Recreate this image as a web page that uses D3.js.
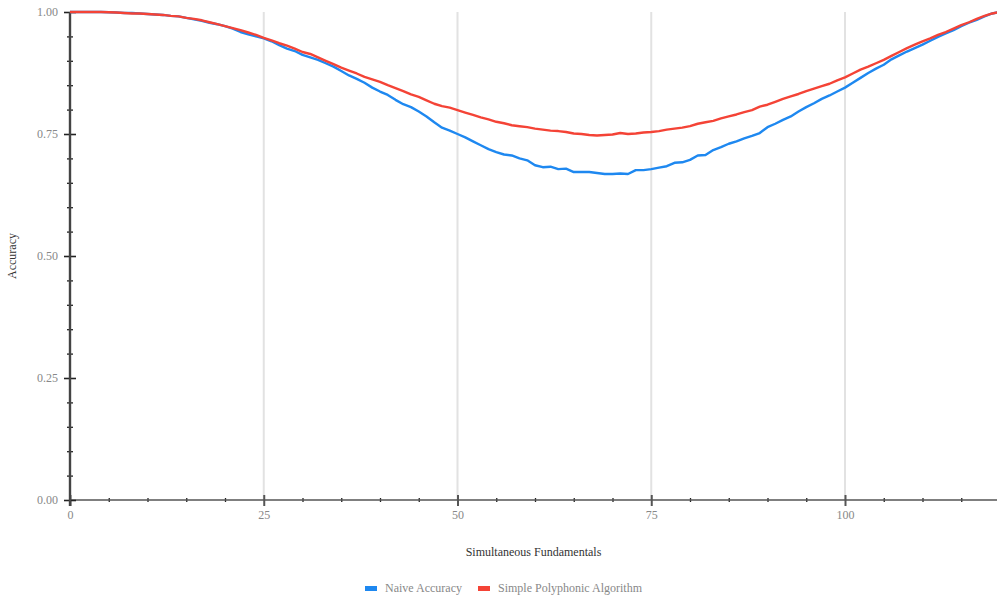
<!DOCTYPE html>
<html>
<head>
<meta charset="utf-8">
<script src="https://cdn.jsdelivr.net/npm/d3@7"></script>
<style>
  html, body { margin: 0; padding: 0; background: #fff; }
  svg { display: block; }
  text { font-family: "Liberation Serif", "DejaVu Serif", serif; }
</style>
</head>
<body>
<svg id="chart" width="997" height="596"></svg>
<script>
// Number of simultaneous fundamentals (0..120)
const fundamentals = d3.range(0, 121);

// Naive accuracy per number of fundamentals
const naiveAccuracy = [
  1.000, 1.000, 1.000, 1.000, 1.000, 0.9996, 0.999, 0.998, 0.998, 0.997,
  0.996, 0.995, 0.994, 0.992, 0.991, 0.988, 0.985, 0.982, 0.978, 0.975,
  0.971, 0.966, 0.959, 0.954, 0.950, 0.946, 0.940, 0.932, 0.925, 0.920,
  0.912, 0.907, 0.902, 0.895, 0.888, 0.879, 0.870, 0.863, 0.855, 0.845,
  0.837, 0.830, 0.820, 0.811, 0.805, 0.796, 0.786, 0.774, 0.763, 0.757,
  0.750, 0.743, 0.735, 0.727, 0.719, 0.713, 0.708, 0.706, 0.700, 0.696,
  0.686, 0.682, 0.683, 0.678, 0.679, 0.672, 0.672, 0.672, 0.670, 0.668,
  0.668, 0.669, 0.668, 0.676, 0.676, 0.678, 0.681, 0.684, 0.691, 0.692,
  0.697, 0.706, 0.707, 0.717, 0.723, 0.730, 0.735, 0.741, 0.746, 0.752,
  0.764, 0.771, 0.779, 0.786, 0.796, 0.805, 0.813, 0.822, 0.829, 0.837,
  0.845, 0.855, 0.865, 0.875, 0.884, 0.892, 0.903, 0.911, 0.919, 0.926,
  0.933, 0.941, 0.949, 0.956, 0.963, 0.971, 0.978, 0.984, 0.991, 0.997,
  1.000
];

// Simple polyphonic algorithm accuracy per number of fundamentals
const polyphonicAccuracy = [
  1.000, 1.000, 1.000, 1.000, 1.000, 0.9996, 0.999, 0.998, 0.997, 0.997,
  0.996, 0.995, 0.994, 0.992, 0.991, 0.988, 0.986, 0.983, 0.979, 0.975,
  0.971, 0.967, 0.963, 0.958, 0.953, 0.947, 0.942, 0.936, 0.931, 0.925,
  0.918, 0.914, 0.907, 0.900, 0.893, 0.886, 0.880, 0.874, 0.867, 0.862,
  0.857, 0.850, 0.844, 0.838, 0.831, 0.826, 0.819, 0.812, 0.807, 0.804,
  0.799, 0.794, 0.789, 0.784, 0.780, 0.775, 0.772, 0.768, 0.766, 0.764,
  0.761, 0.759, 0.757, 0.756, 0.754, 0.751, 0.750, 0.748, 0.747, 0.748,
  0.749, 0.752, 0.750, 0.751, 0.753, 0.754, 0.756, 0.759, 0.761, 0.763,
  0.766, 0.771, 0.774, 0.777, 0.782, 0.786, 0.790, 0.795, 0.799, 0.806,
  0.810, 0.816, 0.822, 0.827, 0.832, 0.838, 0.843, 0.848, 0.853, 0.860,
  0.866, 0.874, 0.882, 0.888, 0.895, 0.902, 0.910, 0.918, 0.926, 0.933,
  0.940, 0.946, 0.953, 0.959, 0.966, 0.973, 0.979, 0.986, 0.992, 0.997,
  1.000
];

const seriesNames = ["Naive Accuracy", "Simple Polyphonic Algorithm"];
const seriesColors = ["#1e88f0", "#f44336"];
const xMajorTicks = [0, 25, 50, 75, 100];
const yMajorTicks = [0, 0.25, 0.5, 0.75, 1];

const svg = d3.select("#chart");
const margin = { left: 70, top: 12, bottom: 500 };

const x = d3.scaleLinear().domain([0, 120]).range([margin.left, 1000]);
const y = d3.scaleLinear().domain([0, 1]).range([margin.bottom, margin.top]);

const clip = svg.append("defs").append("clipPath").attr("id", "plotClip")
  .append("rect").attr("x", margin.left).attr("y", 0).attr("width", 997 - margin.left).attr("height", 596);

// Vertical gridlines at major x ticks
svg.append("g")
  .selectAll("line")
  .data(xMajorTicks.filter(d => d > 0))
  .join("line")
  .attr("x1", d => x(d)).attr("x2", d => x(d))
  .attr("y1", y(1)).attr("y2", y(0))
  .attr("stroke", "#e2e2e2").attr("stroke-width", 2);

// X axis: minor ticks every 5, major every 25
const xMinor = d3.range(0, 121, 5).filter(d => d % 25 !== 0);
const xAxisMinor = d3.axisBottom(x).tickValues(xMinor).tickSize(4).tickFormat("");
const gxMinor = svg.append("g").attr("transform", `translate(0,${y(0) - 2})`).call(xAxisMinor);
gxMinor.select(".domain").remove();
gxMinor.selectAll("line").attr("stroke", "#222").attr("stroke-width", 1.3);

const xAxis = d3.axisBottom(x).tickValues(xMajorTicks).tickSize(11).tickSizeOuter(0)
  .tickFormat(d3.format("d"));
const gx = svg.append("g").attr("transform", `translate(0,${y(0) - 5})`).call(xAxis);
gx.select(".domain").remove();
gx.selectAll(".tick line").attr("stroke", "#555").attr("stroke-width", 2);
gx.selectAll(".tick text").attr("dy", 0).attr("y", 24)
  .attr("fill", "#888").attr("font-size", 12).attr("font-family", "Liberation Serif");

svg.append("line")
  .attr("x1", margin.left).attr("x2", 997)
  .attr("y1", y(0)).attr("y2", y(0))
  .attr("stroke", "#555").attr("stroke-width", 1.6);

// Y axis: minor ticks every 0.05, major every 0.25
const yMinor = d3.range(0, 21).map(i => i / 20).filter(d => Math.round(d * 100) % 25 !== 0);
const yAxisMinor = d3.axisLeft(y).tickValues(yMinor).tickSize(6).tickFormat("");
const gyMinor = svg.append("g").attr("transform", `translate(${margin.left + 3},0)`).call(yAxisMinor);
gyMinor.select(".domain").remove();
gyMinor.selectAll("line").attr("stroke", "#222").attr("stroke-width", 1.3);

const yAxis = d3.axisLeft(y).tickValues(yMajorTicks).tickSize(12).tickFormat(d3.format(".2f"));
const gy = svg.append("g").attr("transform", `translate(${margin.left + 6},0)`).call(yAxis);
gy.select(".domain").remove();
gy.selectAll(".tick line").attr("stroke", "#222").attr("stroke-width", 1.6);
gy.selectAll(".tick text").attr("x", -18).attr("dy", "0.32em")
  .attr("fill", "#888").attr("font-size", 12).attr("font-family", "Liberation Serif");

svg.append("line")
  .attr("x1", margin.left).attr("x2", margin.left)
  .attr("y1", y(1)).attr("y2", y(0) + 6)
  .attr("stroke", "#444").attr("stroke-width", 2.4);

// Series lines
const series = [naiveAccuracy, polyphonicAccuracy];
const line = d3.line()
  .x((d, i) => x(fundamentals[i]))
  .y(d => y(d));

svg.append("g").attr("clip-path", "url(#plotClip)")
  .selectAll("path")
  .data(series)
  .join("path")
  .attr("d", d => line(d))
  .attr("fill", "none")
  .attr("stroke", (d, i) => seriesColors[i])
  .attr("stroke-width", 2.4)
  .attr("stroke-linejoin", "round");

// Axis titles
svg.append("text")
  .attr("transform", `translate(16,${(y(0) + y(1)) / 2}) rotate(-90)`)
  .attr("text-anchor", "middle")
  .attr("fill", "#333").attr("font-size", 12)
  .text("Accuracy");

svg.append("text")
  .attr("x", (margin.left + 997) / 2).attr("y", 556)
  .attr("text-anchor", "middle")
  .attr("fill", "#333").attr("font-size", 12)
  .text("Simultaneous Fundamentals");

// Legend
const legendItems = [
  { name: seriesNames[0], color: seriesColors[0], x: 365 },
  { name: seriesNames[1], color: seriesColors[1], x: 478 }
];
const legend = svg.append("g");
legend.selectAll("rect")
  .data(legendItems)
  .join("rect")
  .attr("x", d => d.x).attr("y", 586)
  .attr("width", 12).attr("height", 5)
  .attr("fill", d => d.color);
legend.selectAll("text")
  .data(legendItems)
  .join("text")
  .attr("x", d => d.x + 20).attr("y", 592)
  .attr("fill", "#888").attr("font-size", 12)
  .text(d => d.name);
</script>
</body>
</html>
